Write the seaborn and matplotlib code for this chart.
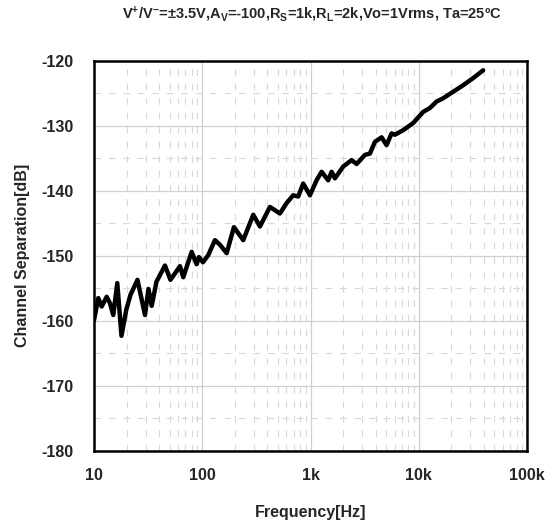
import numpy as np
import pandas as pd
import matplotlib
matplotlib.use("Agg")
import matplotlib.pyplot as plt
import seaborn as sns

freq_hz = [10.0, 10.96, 11.78, 13.10, 14.05, 15.07, 16.41, 17.94, 19.87, 21.73,
           25.22, 29.58, 31.86, 34.11, 37.76, 45.24, 50.86, 62.25, 66.76, 79.83,
           88.8, 93.2, 101.5, 113.6, 131.0, 145.7, 168.0, 196.2, 239.1, 295.8,
           341.0, 421.8, 521.9, 601.7, 692.3, 769.7, 856.0, 987.4, 1138, 1266,
           1457, 1566, 1680, 2004, 2396, 2666, 3179, 3536, 3932, 4535,
           5043, 5609, 6015, 7178, 8878, 10980, 12660, 14600, 16800, 20780,
           25700, 31800, 39320]
separation_db = [-159.9, -156.5, -157.8, -156.3, -157.3, -159.1, -154.2, -162.3, -158.3, -156.0,
                 -153.7, -159.1, -155.1, -157.7, -154.0, -151.5, -153.7, -151.6, -153.3, -149.4,
                 -151.3, -150.2, -151.0, -149.9, -147.6, -148.3, -149.6, -145.6, -147.6, -143.7,
                 -145.5, -142.5, -143.5, -141.9, -140.7, -140.9, -138.9, -140.7, -138.4, -137.1,
                 -138.4, -137.1, -138.1, -136.3, -135.3, -135.9, -134.5, -134.3, -132.5, -131.8,
                 -133.0, -131.2, -131.4, -130.7, -129.6, -127.9, -127.3, -126.3, -125.8, -124.8,
                 -123.8, -122.7, -121.5]

x_ticks = [10, 100, 1000, 10000, 100000]
x_tick_labels = ["10", "100", "1k", "10k", "100k"]
y_ticks = [-180, -170, -160, -150, -140, -130, -120]
y_tick_labels = ["-180", "-170", "-160", "-150", "-140", "-130", "-120"]

title = "V$^{+}$/V$^{-}$=±3.5V,A$_{V}$=-100,R$_{S}$=1k,R$_{L}$=2k,Vo=1Vrms, Ta=25ºC"
x_label = "Frequency[Hz]"
y_label = "Channel Separation[dB]"

sns.set_style("white")
plt.rcParams["font.family"] = ["Liberation Sans", "DejaVu Sans"]
plt.rcParams["mathtext.fontset"] = "custom"
plt.rcParams["mathtext.rm"] = "Liberation Sans:bold"
plt.rcParams["mathtext.it"] = "Liberation Sans:bold"
plt.rcParams["mathtext.bf"] = "Liberation Sans:bold"
plt.rcParams["axes.unicode_minus"] = False

df = pd.DataFrame({"freq": freq_hz, "db": separation_db})

fig = plt.figure(figsize=(5.49, 5.24), dpi=100)
ax = fig.add_axes([0.1712, 0.1393, 0.7888, 0.7452])

ax.set_xscale("log")
ax.set_xlim(10, 100000)
ax.set_ylim(-180, -120)

# grid
ax.set_yticks(np.arange(-175, -120, 10), minor=True)
ax.grid(True, which="major", axis="both", color="#d0d0d0", linewidth=0.9, linestyle="-")
ax.grid(True, which="minor", axis="both", color="#d8d8d8", linewidth=0.8,
        linestyle=(0, (6, 7)))
ax.set_axisbelow(True)

sns.lineplot(data=df, x="freq", y="db", ax=ax, color="black", linewidth=3.2,
             sort=False, estimator=None, solid_joinstyle="round",
             solid_capstyle="round")

ax.set_xticks(x_ticks)
ax.set_xticklabels(x_tick_labels, fontsize=11.5, fontweight="bold")
ax.set_yticks(y_ticks)
ax.set_yticklabels(y_tick_labels, fontsize=11.5, fontweight="bold")
ax.tick_params(axis="both", which="both", length=0)
ax.tick_params(axis="y", pad=15)
ax.tick_params(axis="x", pad=12)

ax.set_xlabel(x_label, fontsize=11.5, fontweight="bold", labelpad=16)
ax.set_ylabel(y_label, fontsize=11.5, fontweight="bold", labelpad=8)

for s in ax.spines.values():
    s.set_visible(True)
    s.set_color("black")
    s.set_linewidth(1.8)

fig.text(0.568, 0.972, title, ha="center", va="center", fontsize=10.5, fontweight="bold")

fig.savefig("out.png", dpi=100)
